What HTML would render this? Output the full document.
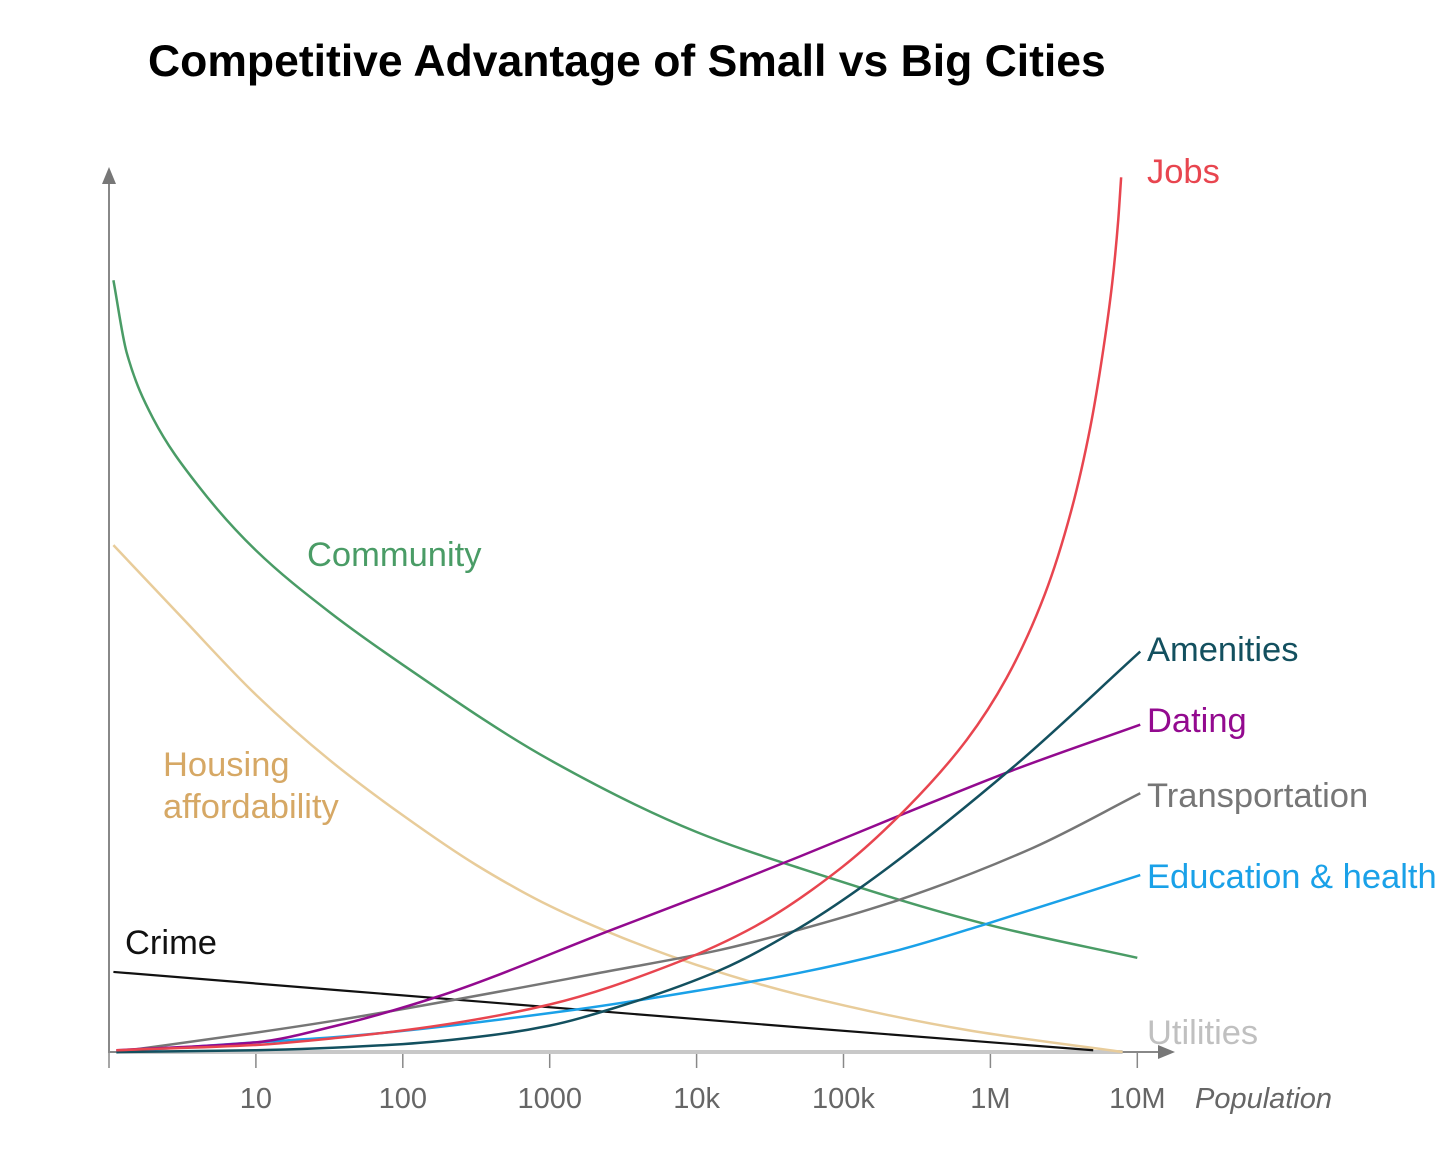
<!DOCTYPE html>
<html><head><meta charset="utf-8"><style>
html,body{margin:0;padding:0;background:#fff;}
svg{display:block;font-family:"Liberation Sans",Arial,sans-serif;}
</style></head><body>
<svg id="chart" width="1456" height="1165" viewBox="0 0 1456 1165">
<text x="148" y="76" font-size="44.5" font-weight="bold" fill="#000">Competitive Advantage of Small vs Big Cities</text>
<g id="axes"></g>
<g id="lines"></g>
<g id="labels"></g>
</svg>
<script>
const tickLogs = [0,1,2,3,4,5,6,7];
const tickLabels = ["","10","100","1000","10k","100k","1M","10M"];
const xCommunity = [0.03,0.12,0.3,0.6,1,1.5,2,3,4,4.7,6,7];
const yCommunity = [87.7,79.5,72.0,64.5,57.0,50.0,44.0,33.2,25.0,20.9,14.4,10.7];
const xHousing = [0.03,0.5,1,1.5,2,2.5,3,3.5,4,4.7,5.84,6.9];
const yHousing = [57.6,49.3,40.6,33.2,26.9,21.25,16.6,12.95,9.9,6.5,2.5,0];
const xCrime = [0.03,4.7,6.7];
const yCrime = [9.1,2.8,0.2];
const xJobs = [0.05,1,1.55,2.2,3,3.84,4.4,4.99,5.43,5.84,6.11,6.37,6.55,6.68,6.77,6.83,6.87,6.89];
const yJobs = [0.2,0.8,1.6,2.9,5.4,10.0,14.3,21.0,27.7,35.5,42.5,52.0,61.5,71.0,80.0,87.5,94.5,99.4];
const xAmenities = [0.05,1,2,2.6,3,3.44,4.16,4.7,5.11,6.15,7.02];
const yAmenities = [0,0.2,0.9,1.9,3.0,5.0,9.3,14.1,18.6,32.3,45.5];
const xDating = [0.05,1,1.55,2.23,3.44,4.16,4.7,5.43,6.15,7.02];
const yDating = [0.2,1.1,3.0,6.25,14.0,18.6,22.2,27.2,32.0,37.2];
const xTransport = [0.05,1,1.55,3.44,4.16,4.7,5.38,6.29,7.02];
const yTransport = [0,2.2,3.6,9.3,11.6,13.9,17.3,23.2,29.4];
const xEducation = [0.05,1,1.55,3.17,4.16,4.7,5.38,6,7.02];
const yEducation = [0,1.1,1.7,4.8,7.4,9.0,11.6,14.7,20.1];
const xUtilities = [0.05,6.9];
const yUtilities = [0,0];

const X = v => 109 + v*146.9;
const Y = v => 1052 - v*8.8;
const NS = "http://www.w3.org/2000/svg";
function mk(tag, attrs, parent){const e=document.createElementNS(NS,tag);for(const k in attrs)e.setAttribute(k,attrs[k]);parent.appendChild(e);return e;}
const axes=document.getElementById('axes'), lines=document.getElementById('lines'), labels=document.getElementById('labels');

let ya = mk('line',{x1:109,y1:1052,x2:109,y2:182,stroke:'#888','stroke-width':2},axes);


let yar = mk('polygon',{points:'102,184 116,184 109,167',fill:'#777'},axes);


let xa = mk('line',{x1:108,y1:1052,x2:1160,y2:1052,stroke:'#888','stroke-width':2},axes);


let xar = mk('polygon',{points:'1158,1045 1158,1059 1175,1052',fill:'#777'},axes);


tickLogs.forEach((t,i)=>{
  const tk = mk('line',{x1:X(t),y1:1052,x2:X(t),y2:1068,stroke:'#888','stroke-width':1.5},axes);
  
  
  if(tickLabels[i]){
    const tl = mk('text',{x:X(t),y:1108,'font-size':29,fill:'#666','text-anchor':'middle'},axes);
    tl.textContent = tickLabels[i];
    
    
  }
});
const xt = mk('text',{x:1195,y:1108,'font-size':29,fill:'#666','font-style':'italic'},axes);
xt.textContent='Population';



function path(xs, ys){
  const px = xs.map(X), py = ys.map(Y), n = px.length;
  if(n<3) return `M${px[0]},${py[0]} L${px[n-1]},${py[n-1]}`;
  const d=[], m=[];
  for(let i=0;i<n-1;i++) d.push((py[i+1]-py[i])/(px[i+1]-px[i]));
  m[0]=d[0]; m[n-1]=d[n-2];
  for(let i=1;i<n-1;i++){
    if(d[i-1]*d[i]<=0) m[i]=0;
    else { const w1=2*(px[i+1]-px[i])+(px[i]-px[i-1]), w2=(px[i+1]-px[i])+2*(px[i]-px[i-1]);
      m[i]=(w1+w2)/(w1/d[i-1]+w2/d[i]); }
  }
  let s=`M${px[0]},${py[0]}`;
  for(let i=0;i<n-1;i++){
    const h=(px[i+1]-px[i])/3;
    s+=` C${px[i]+h},${py[i]+m[i]*h} ${px[i+1]-h},${py[i+1]-m[i+1]*h} ${px[i+1]},${py[i+1]}`;
  }
  return s;
}
function series(name, xs, ys, color, w){
  const e = mk('path',{d:path(xs,ys),fill:'none',stroke:color,'stroke-width':w,'stroke-linejoin':'round'},lines);
  
  
}
series('utilities-line', xUtilities, yUtilities, '#c8c8c8', 4);
series('housing-line', xHousing, yHousing, '#e8cc9a', 2.5);
series('crime-line', xCrime, yCrime, '#111', 2.2);
series('community-line', xCommunity, yCommunity, '#4a9c66', 2.5);
series('education-line', xEducation, yEducation, '#1aa1e8', 2.5);
series('transportation-line', xTransport, yTransport, '#767676', 2.5);
series('dating-line', xDating, yDating, '#930a8f', 2.5);
series('amenities-line', xAmenities, yAmenities, '#13505f', 2.5);
series('jobs-line', xJobs, yJobs, '#e8454f', 2.5);

function label(name, txt, x, y, color){
  const t = mk('text',{x:x,y:y,'font-size':34.5,fill:color},labels);
  t.textContent = txt;
  
  
}
label('jobs-label','Jobs',1147,183,'#e8454f');
label('amenities-label','Amenities',1147,661,'#13505f');
label('dating-label','Dating',1147,732,'#930a8f');
label('transportation-label','Transportation',1147,807,'#767676');
label('education-label','Education & health',1147,888,'#1aa1e8');
label('utilities-label','Utilities',1147,1044,'#c0c0c0');
label('community-label','Community',307,566,'#4a9c66');
label('housing-label-1','Housing',163,776,'#d6a865');
label('housing-label-2','affordability',163,818,'#d6a865');
label('crime-label','Crime',125,954,'#111');
</script>
</body></html>
